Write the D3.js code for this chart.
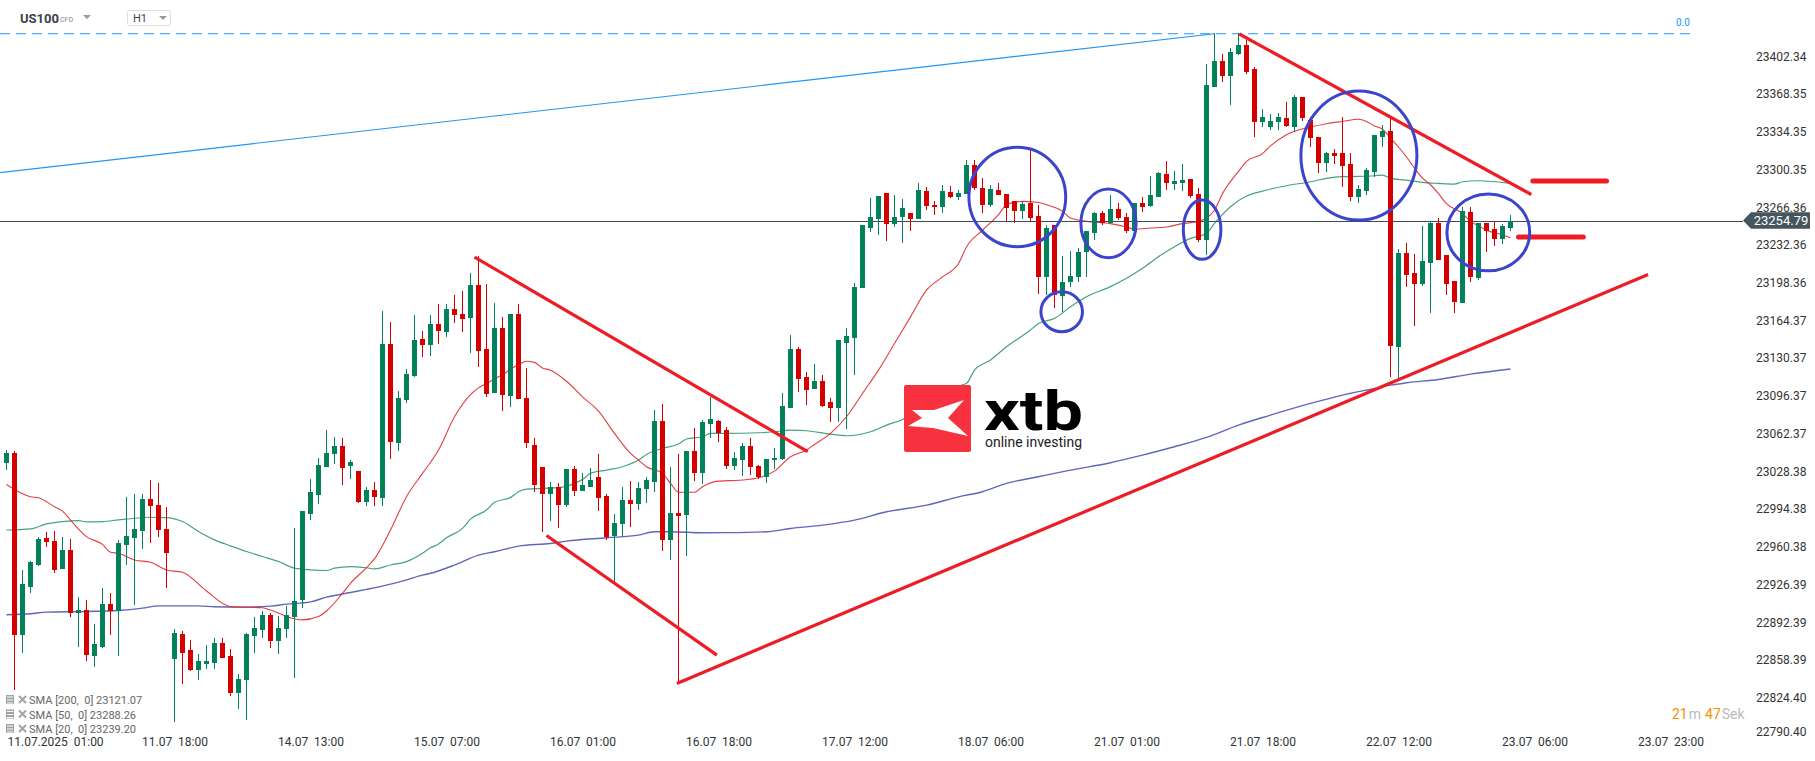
<!DOCTYPE html>
<html><head><meta charset="utf-8">
<script src="https://cdn.jsdelivr.net/npm/d3@7"></script>
<style>
body{margin:0;background:#fff;}
svg{display:block;font-family:Roboto,"Noto Sans",sans-serif;}
</style>
</head><body>
<svg id="chart" width="1815" height="761"></svg>
<script>
// ---------- DATA ----------
const opens=[23036.7,23045.7,22881.4,22925.1,22944.4,22968.8,22966.1,22941.1,22958.0,22900.9,22903.9,22862.5,22870.9,22909.3,22903.3,22962.8,22968.8,22975.4,23003.9,22998.2,22976.9,22859.4,22882.3,22867.9,22849.9,22855.6,22856.5,22874.2,22862.5,22829.1,22840.8,22880.5,22885.9,22899.1,22876.0,22886.5,22897.6,22912.9,22990.4,23007.5,23033.0,23044.1,23051.6,23033.6,23029.4,23001.5,23012.0,23005.1,23143.5,23054.6,23093.1,23114.7,23148.0,23142.6,23161.5,23154.6,23175.0,23170.5,23167.2,23196.7,23139.0,23099.7,23157.9,23097.0,23170.5,23094.6,23052.5,23032.4,23008.4,23014.4,22998.5,23030.6,23011.4,23015.0,23023.4,23006.6,22970.6,22981.4,23003.0,22999.4,23012.9,23019.5,23074.1,22967.0,22991.0,22989.5,23047.1,23027.6,23071.4,23074.1,23066.0,23033.9,23039.0,23051.9,23033.9,23023.4,23039.0,23039.6,23086.2,23138.7,23113.5,23102.9,23110.2,23091.6,23085.6,23144.7,23149.2,23194.3,23247.7,23256.1,23279.8,23251.6,23257.6,23261.2,23256.1,23281.4,23268.7,23266.6,23280.8,23275.7,23278.3,23304.8,23284.4,23269.0,23282.3,23278.3,23272.3,23263.6,23270.2,23258.8,23204.2,23250.7,23186.7,23199.4,23203.6,23226.7,23243.8,23261.2,23252.2,23265.1,23257.6,23245.6,23270.2,23267.8,23276.2,23296.7,23287.7,23288.9,23292.2,23278.6,23237.2,23375.3,23398.5,23385.0,23404.8,23412.9,23391.3,23343.8,23339.3,23343.8,23346.8,23339.3,23365.7,23345.3,23330.3,23306.3,23315.3,23315.3,23305.4,23276.2,23281.6,23298.7,23330.2,23335.4,23141.1,23225.7,23207.7,23197.5,23216.7,23252.8,23223.6,23200.5,23180.7,23262.4,23203.2,23252.8,23247.1,23237.8,23248.3];
const highs=[23048.1,23047.0,22939.9,22948.0,22970.0,22974.5,22975.1,22970.0,22967.9,22915.6,22912.9,22891.3,22923.4,22918.9,22967.0,23006.0,23008.4,23008.4,23021.0,23018.0,22996.7,22886.8,22885.0,22876.9,22864.0,22872.1,22878.4,22879.0,22868.5,22846.2,22883.5,22897.3,22903.0,22900.9,22898.5,22907.8,22977.5,22993.1,23021.9,23040.8,23066.1,23060.1,23058.5,23039.0,23029.4,23014.4,23019.5,23173.2,23163.0,23101.5,23121.3,23169.6,23155.5,23169.6,23179.5,23179.5,23187.6,23191.2,23207.5,23222.8,23197.6,23180.4,23167.5,23170.5,23179.5,23121.6,23058.5,23032.4,23018.9,23018.0,23030.6,23033.6,23027.0,23031.5,23044.1,23008.4,22990.1,23014.4,23020.4,23019.5,23023.4,23084.0,23089.5,23032.4,23044.1,23047.1,23067.5,23075.0,23096.1,23075.0,23068.4,23045.9,23054.0,23058.5,23034.5,23039.6,23049.5,23099.1,23151.6,23140.5,23118.0,23125.5,23115.3,23095.2,23147.1,23157.6,23198.2,23250.7,23274.7,23276.8,23279.8,23277.7,23273.8,23261.2,23288.9,23285.3,23272.3,23286.8,23285.9,23282.3,23309.3,23309.3,23292.8,23286.8,23288.9,23278.3,23272.3,23272.3,23319.8,23268.7,23250.7,23250.7,23222.8,23227.3,23229.7,23245.3,23262.7,23263.3,23277.7,23270.2,23261.2,23270.2,23276.2,23295.2,23298.8,23308.4,23299.4,23305.7,23292.2,23283.8,23395.8,23424.0,23404.8,23409.9,23423.4,23417.4,23392.8,23354.9,23350.7,23351.3,23361.8,23367.8,23365.7,23348.3,23330.3,23316.8,23318.9,23347.7,23315.9,23286.8,23301.7,23331.7,23340.8,23346.8,23228.7,23234.8,23224.5,23250.1,23253.7,23257.3,23223.6,23200.5,23267.2,23267.2,23252.8,23252.8,23254.6,23251.3,23259.7];
const lows=[23030.1,22831.8,22865.5,22919.0,22943.5,22961.0,22937.6,22941.1,22897.9,22870.9,22858.3,22852.9,22869.4,22881.4,22862.5,22944.1,22908.4,22959.1,22964.6,22970.0,22923.7,22803.3,22837.2,22849.0,22840.8,22850.7,22850.7,22861.0,22826.4,22814.4,22804.8,22864.9,22878.4,22869.4,22864.0,22878.4,22843.0,22905.4,22985.0,22999.4,23032.4,23035.4,23016.5,23021.9,23000.6,22997.6,22997.6,22997.6,23039.9,23047.1,23090.1,23113.5,23132.1,23132.7,23143.5,23150.1,23162.1,23154.6,23135.7,23123.1,23096.1,23099.7,23083.5,23087.1,23094.0,23050.1,23009.9,22974.4,22984.0,22977.4,22997.0,23006.6,23011.4,23015.0,22993.4,22967.0,22929.4,22970.0,22979.0,22994.0,22999.9,23010.5,22957.3,22948.9,22837.8,22952.8,23020.4,23017.4,23058.5,23055.5,23030.6,23030.0,23024.6,23025.5,23021.6,23018.0,23030.6,23039.0,23086.2,23100.6,23088.6,23102.9,23087.1,23073.5,23073.5,23066.6,23115.6,23194.3,23244.7,23241.7,23236.6,23248.6,23234.8,23245.6,23256.1,23264.2,23259.7,23261.2,23274.7,23273.2,23278.3,23282.3,23261.2,23267.2,23277.7,23253.7,23252.2,23255.8,23253.7,23188.3,23187.7,23175.6,23172.6,23195.2,23199.7,23204.2,23237.2,23250.7,23251.6,23255.2,23243.2,23243.2,23262.7,23266.6,23276.2,23282.3,23282.3,23281.7,23274.7,23235.7,23223.7,23375.3,23379.8,23358.8,23403.9,23386.8,23329.7,23339.3,23336.3,23336.3,23338.7,23334.8,23344.7,23321.3,23297.3,23298.8,23305.7,23285.3,23272.6,23270.2,23277.7,23294.2,23321.2,23113.4,23111.6,23194.5,23159.7,23195.7,23171.7,23219.1,23187.6,23171.7,23180.7,23199.6,23201.1,23226.6,23232.0,23233.3,23245.6];
const closes=[23045.1,22881.4,22927.3,22947.6,22967.9,22965.5,22940.0,22958.0,22900.9,22903.9,22863.4,22873.3,22909.3,22903.3,22964.0,22970.6,22976.9,23003.9,22997.9,22976.0,22955.0,22882.9,22865.5,22849.9,22858.0,22858.0,22874.2,22861.0,22829.1,22841.7,22882.3,22887.4,22899.1,22876.0,22887.4,22899.4,22912.0,22993.1,23010.5,23034.5,23045.0,23051.6,23032.1,23037.5,23001.5,23012.0,23005.4,23143.5,23055.5,23094.9,23116.5,23147.1,23142.6,23161.5,23155.5,23175.0,23169.6,23166.0,23196.7,23137.5,23098.5,23157.9,23097.6,23170.5,23094.0,23054.0,23016.5,23008.4,23015.0,22998.5,23030.6,23011.4,23016.5,23021.0,23005.1,22970.0,22982.0,23003.0,22999.4,23013.5,23021.0,23074.1,22967.0,22991.0,22988.6,23047.1,23027.6,23072.9,23075.6,23063.0,23033.9,23040.5,23051.9,23033.0,23023.4,23039.6,23041.1,23087.6,23138.7,23112.0,23102.1,23110.2,23088.0,23085.6,23147.1,23150.7,23195.2,23250.7,23257.6,23276.8,23251.6,23257.6,23265.7,23256.1,23282.3,23267.8,23266.6,23281.4,23275.7,23279.8,23304.8,23283.8,23268.7,23282.9,23277.7,23265.7,23263.6,23269.6,23257.3,23204.2,23247.7,23187.7,23199.1,23204.8,23226.7,23245.3,23261.2,23252.2,23265.1,23256.7,23245.6,23270.2,23267.2,23277.7,23297.3,23288.9,23290.4,23291.3,23276.8,23237.2,23376.8,23398.5,23385.0,23406.9,23412.9,23388.9,23343.8,23347.7,23344.4,23347.7,23339.9,23365.7,23346.8,23328.8,23306.3,23315.3,23312.9,23304.2,23276.2,23282.9,23300.2,23331.7,23335.4,23142.0,23225.7,23205.6,23197.5,23218.2,23252.8,23219.1,23197.5,23181.0,23263.3,23204.1,23252.2,23245.6,23238.1,23250.1,23254.79];

// moving averages: [bar index, value]
const sma20=[[0,23017],[3,23006],[4,23005],[6,22997],[7,22993],[8,22985],[10,22970],[12,22963],[13,22956],[14,22955],[16,22949],[18,22947],[20,22940],[22,22938],[25,22921],[28,22907],[32,22906],[33,22904],[36,22896],[37,22895],[39,22898],[40,22903],[42,22919],[43,22928],[45,22942],[46,22950],[48,22976],[50,23006],[52,23027],[54,23048],[56,23078],[58,23098],[59,23104],[60,23108],[62,23116],[64,23125],[65,23128],[66,23127],[67,23122],[68,23120],[70,23110],[72,23096],[74,23083],[76,23063],[78,23045],[79,23039],[80,23033],[82,23027],[83,23018],[84,23010],[86,23010],[87,23015],[89,23020],[92,23021],[94,23023],[96,23029],[98,23042],[100,23048],[101,23053],[103,23063],[105,23078],[107,23099],[109,23120],[111,23144],[113,23168],[115,23192],[117,23204],[119,23216],[120,23231],[122,23246],[124,23260],[125,23269],[127,23272],[129,23271],[130,23269],[132,23263],[133,23257],[135,23254],[138,23252],[140,23249],[141,23247],[143,23248],[145,23249],[147,23252],[149,23254],[150,23257],[151,23264],[152,23279],[154,23299],[155,23308],[157,23315],[158,23322],[160,23332],[163,23339],[165,23342],[167,23344],[169,23346],[170,23344],[171,23340],[172,23337],[173,23329],[174,23321],[175,23312],[176,23302],[177,23293],[178,23287],[179,23279],[180,23270],[182,23261],[183,23254],[184,23250],[185,23246],[187,23242],[188,23239.2]];
const sma50=[[0,22976],[3,22977],[5,22981.5],[7,22983.6],[9,22984.5],[10,22983.3],[12,22983.6],[14,22985.1],[16,22986.6],[18,22987.5],[20,22987.2],[22,22983.6],[24,22974.6],[26,22967.1],[28,22961.7],[30,22956.6],[32,22952.1],[34,22947.6],[36,22941.6],[38,22940.1],[40,22939.5],[41,22941.6],[43,22943.1],[45,22942],[46,22941],[48,22944.5],[50,22947.5],[52,22955],[53,22960],[54,22963.3],[55,22969],[57,22977.5],[58,22985.8],[60,22994.0],[61,23000.9],[63,23005.4],[64,23010.5],[65,23012.9],[67,23013.5],[69,23014.1],[71,23018.0],[72,23021.6],[73,23027.0],[75,23030.0],[77,23033.0],[79,23039.0],[80,23044.1],[82,23049.5],[84,23053.4],[85,23058.0],[87,23060.0],[88,23063.0],[90,23063.0],[94,23063.6],[96,23064.5],[98,23066.0],[100,23065.4],[103,23062.4],[105,23060.9],[108,23064.5],[110,23070.5],[112,23075.6],[115,23090.0],[117,23102.1],[120,23108.1],[121,23120.1],[123,23129.1],[125,23141.1],[128,23156.1],[129,23162.1],[131,23166.6],[133,23177.1],[135,23186.1],[138,23195.2],[140,23202.7],[142,23211.7],[144,23222.2],[146,23231.2],[148,23238.7],[150,23243.2],[151,23252.2],[153,23267.2],[155,23276.8],[157,23281.3],[160,23286.1],[163,23289.7],[165,23292.8],[167,23294.3],[169,23294.5],[171,23295.1],[172,23295.7],[173,23292.7],[175,23291.2],[177,23289.1],[179,23288.2],[181,23287.6],[182,23289.7],[184,23290.6],[188,23288.26]];
const sma200=[[0,22899.6],[3,22900.5],[5,22902.0],[10,22902.6],[14,22903.5],[17,22905.6],[19,22907.7],[24,22907.7],[26,22906.8],[29,22906.5],[33,22907.4],[35,22909.2],[38,22911.3],[40,22915.5],[43,22919.7],[45,22922.5],[48,22927.2],[50,22931.1],[52,22935.4],[53,22937],[56,22944.4],[59,22953.4],[61,22956.4],[64,22961.5],[68,22963.9],[70,22966.0],[75,22969.0],[79,22971.4],[81,22974.4],[83,22974.4],[87,22973.5],[90,22973.6],[95,22974.4],[98,22977.4],[102,22980.4],[106,22984.9],[110,22992.4],[115,22998.4],[119,23005.9],[122,23010.5],[125,23018.0],[129,23024.0],[133,23029.9],[138,23036.6],[142,23043.5],[146,23051.0],[150,23059.4],[154,23070.5],[158,23079.5],[163,23090.0],[167,23097.5],[171,23103.5],[173,23106.5],[175,23108.6],[179,23111.6],[183,23116.4],[188,23121.07]];

const yTickValues=[23402.34,23368.35,23334.35,23300.35,23266.36,23232.36,23198.36,23164.37,23130.37,23096.37,23062.37,23028.38,22994.38,22960.38,22926.39,22892.39,22858.39,22824.40,22790.40];
const xTickIndex=[4,21,38,55,72,89,106,123,140,157,174,191,208];
const xTickLabels=["11.07.2025  01:00","11.07  18:00","14.07  13:00","15.07  07:00","16.07  01:00","16.07  18:00","17.07  12:00","18.07  06:00","21.07  01:00","21.07  18:00","22.07  12:00","23.07  06:00","23.07  23:00"];
const lastPrice=23254.79;
const fibLevel=23423;
const legendItems=["SMA [200,  0] 23121.07","SMA [50,  0] 23288.26","SMA [20,  0] 23239.20"];

// drawn annotations: [index0, value0, index1, value1]
const blueTrend=[-0.8,23298,151,23423];
const redTrends=[[58.5,23221.9,100.15,23046.6],[67.5,22971,88.8,22863.3],[83.8,22837.8,205.2,23206.1],[154.1,23422.8,190.6,23278.2]];
const redStubs=[[190.8,23290.3,200.0,23290.3],[189.0,23239.9,197.1,23239.9]];
// ellipses: [index left, index right, value top, value bottom]
const rings=[[120.3,132.4,23320.7,23231.2],[129.3,134.5,23190.6,23154.6],[134.3,141.2,23283.1,23221.3],[147.1,151.8,23273.2,23219.8],[161.8,176.3,23371.4,23255.2],[180.05,190.4,23278.6,23209.5]];

// ---------- CHART ----------
const svg=d3.select("#chart");
const x=d3.scaleLinear().domain([0,208]).range([6.5,1670.5]);
const y=d3.scaleLinear().domain([23402.34,22824.40]).range([56.7,698.3]);
const GREEN="#03815a", RED="#d40000";

// fib dashed level
svg.append("line").attr("x1",0).attr("x2",1690).attr("y1",y(fibLevel)).attr("y2",y(fibLevel))
  .attr("stroke","#2196f3").attr("stroke-width",1).attr("stroke-dasharray","10,6");
svg.append("text").attr("x",1676).attr("y",y(fibLevel)-8).attr("font-size",10).attr("fill","#2196f3").text("0.0");
// blue trend
svg.append("line").attr("x1",x(blueTrend[0])).attr("y1",y(blueTrend[1])).attr("x2",x(blueTrend[2])).attr("y2",y(blueTrend[3]))
  .attr("stroke","#2196f3").attr("stroke-width",1.2);

// SMA lines
const line=d3.line().x(d=>x(d[0])).y(d=>y(d[1])).curve(d3.curveMonotoneX);
svg.append("path").datum(sma200).attr("d",line).attr("fill","none").attr("stroke","#4f55b5").attr("stroke-width",1.4).attr("opacity",0.9);
svg.append("path").datum(sma50).attr("d",line).attr("fill","none").attr("stroke","#2f9a6c").attr("stroke-width",1.2).attr("opacity",0.9);
svg.append("path").datum(sma20).attr("d",line).attr("fill","none").attr("stroke","#e0282c").attr("stroke-width",1.1).attr("opacity",0.9);

// price line
svg.append("line").attr("x1",0).attr("x2",1743).attr("y1",Math.round(y(lastPrice))+0.5).attr("y2",Math.round(y(lastPrice))+0.5)
  .attr("stroke","#3e4c57").attr("stroke-width",1);

// candles
const idx=d3.range(opens.length);
const cg=svg.append("g").attr("shape-rendering","crispEdges");
cg.selectAll("line.w").data(idx).join("line").attr("class","w")
  .attr("x1",i=>x(i)).attr("x2",i=>x(i)).attr("y1",i=>y(highs[i])).attr("y2",i=>y(lows[i]))
  .attr("stroke",i=>closes[i]>=opens[i]?GREEN:RED).attr("stroke-width",1);
cg.selectAll("rect").data(idx).join("rect")
  .attr("x",i=>x(i)-2.5).attr("width",5)
  .attr("y",i=>y(Math.max(opens[i],closes[i])))
  .attr("height",i=>Math.max(1.5,Math.abs(y(opens[i])-y(closes[i]))))
  .attr("fill",i=>closes[i]>=opens[i]?GREEN:RED);

// logo
const logo=svg.append("g");
logo.append("rect").attr("x",904).attr("y",385).attr("width",67).attr("height",67).attr("rx",2).attr("fill","#f7323e");
logo.append("polygon").attr("points","912,410 934,410 964,400 948,418 968,436 933,428 908,426 922,418").attr("fill","#fff");
logo.append("text").attr("x",984).attr("y",430).attr("font-size",56).attr("font-weight","bold").attr("fill","#000")
  .attr("textLength",99).attr("lengthAdjust","spacingAndGlyphs").text("xtb");
logo.append("text").attr("x",985).attr("y",447).attr("font-size",15).attr("fill","#222")
  .attr("textLength",97).attr("lengthAdjust","spacingAndGlyphs").text("online investing");

// red trend lines
svg.selectAll("line.rt").data(redTrends).join("line").attr("class","rt")
  .attr("x1",d=>x(d[0])).attr("y1",d=>y(d[1])).attr("x2",d=>x(d[2])).attr("y2",d=>y(d[3]))
  .attr("stroke","#ee1c25").attr("stroke-width",3.2);
svg.selectAll("line.rs").data(redStubs).join("line").attr("class","rs")
  .attr("x1",d=>x(d[0])).attr("y1",d=>y(d[1])).attr("x2",d=>x(d[2])).attr("y2",d=>y(d[3]))
  .attr("stroke","#ee1c25").attr("stroke-width",5).attr("stroke-linecap","round");
// rings
svg.selectAll("ellipse").data(rings).join("ellipse")
  .attr("cx",d=>(x(d[0])+x(d[1]))/2).attr("rx",d=>(x(d[1])-x(d[0]))/2)
  .attr("cy",d=>(y(d[2])+y(d[3]))/2).attr("ry",d=>(y(d[3])-y(d[2]))/2)
  .attr("fill","none").attr("stroke","#3d44cc").attr("stroke-width",3);

// y axis
const ya=svg.append("g").attr("transform","translate(1752,0)")
  .call(d3.axisRight(y).tickValues(yTickValues).tickSize(0).tickPadding(4).tickFormat(d3.format(".2f")));
ya.select(".domain").remove();
ya.selectAll(".tick").attr("transform",d=>`translate(0,${Math.min(y(d),732)})`);
ya.selectAll("text").attr("font-size",12).attr("fill","#333").attr("font-family","Roboto");

// price tag
const py=y(lastPrice);
svg.append("polygon").attr("points",`1743,${py} 1751,${py-8.3} 1810,${py-8.3} 1810,${py+8.3} 1751,${py+8.3}`).attr("fill","#47555f");
svg.append("text").attr("x",1781).attr("y",py+4.5).attr("text-anchor","middle").attr("font-size",13).attr("fill","#fff").text(lastPrice.toFixed(2));

// x axis
const xa=svg.append("g").attr("transform","translate(0,735)")
  .call(d3.axisBottom(x).tickValues(xTickIndex).tickSize(0).tickPadding(0).tickFormat((d,i)=>xTickLabels[i]));
xa.select(".domain").remove();
xa.selectAll("text").attr("font-size",12).attr("fill","#333").attr("font-family","Roboto")
  .style("white-space","pre").attr("dy","0.95em");
xa.selectAll(".tick").filter((d,i)=>i===0).select("text").attr("text-anchor","start").attr("x",7-x(xTickIndex[0]));

// timer
const tm=svg.append("text").attr("x",1672).attr("y",719).attr("font-size",14);
tm.append("tspan").attr("fill","#f39200").text("21");
tm.append("tspan").attr("fill","#b8bcc0").attr("dx",1).text("m");
tm.append("tspan").attr("fill","#f39200").attr("dx",4).text("47");
tm.append("tspan").attr("fill","#b8bcc0").attr("dx",1).text("Sek");

// legend
const lg=svg.append("g");
legendItems.forEach((t,k)=>{
  const cy=700+k*14.5;
  const g=lg.append("g");
  g.append("rect").attr("x",6).attr("y",cy-5).attr("width",8).attr("height",9).attr("fill","#a0a4a8");
  [cy-3,cy,cy+3].forEach(yy=>g.append("line").attr("x1",7).attr("x2",13).attr("y1",yy).attr("y2",yy).attr("stroke","#fff").attr("stroke-width",1));
  g.append("path").attr("d",`M19,${cy-4}L26,${cy+3}M26,${cy-4}L19,${cy+3}`).attr("stroke","#a0a4a8").attr("stroke-width",2);
  g.append("text").attr("x",29).attr("y",cy+4).attr("font-size",11).attr("fill","#666").style("white-space","pre").text(t);
});

// header
svg.append("text").attr("x",20).attr("y",23).attr("font-size",13).attr("font-weight","bold").attr("fill","#36414b").text("US100");
svg.append("text").attr("x",60).attr("y",22).attr("font-size",7).attr("fill","#888").text("CFD");
svg.append("path").attr("d","M83,15L91,15L87,19Z").attr("fill","#999");
svg.append("rect").attr("x",127.5).attr("y",10.5).attr("width",43).attr("height",15).attr("rx",2).attr("fill","#fff").attr("stroke","#ddd");
svg.append("text").attr("x",133).attr("y",22).attr("font-size",11).attr("fill","#444").text("H1");
svg.append("path").attr("d","M159,16L167,16L163,20Z").attr("fill","#999");
</script>
</body></html>
